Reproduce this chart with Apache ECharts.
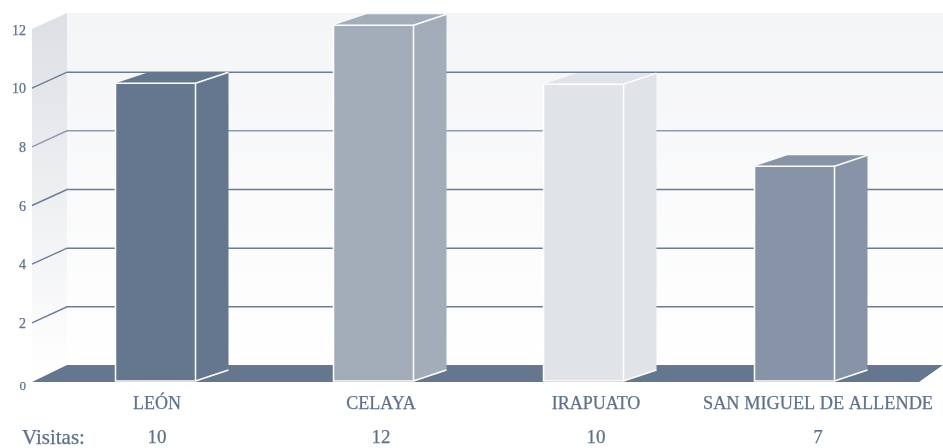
<!DOCTYPE html>
<html><head><meta charset="utf-8">
<style>html,body{margin:0;padding:0;background:#fff}#c{width:943px;height:448px}</style>
<script src="https://cdn.jsdelivr.net/npm/echarts@6/dist/echarts.min.js"></script>
</head><body><div id="c"></div>
<script>
var categories = ['LEÓN', 'CELAYA', 'IRAPUATO', 'SAN MIGUEL DE ALLENDE'];
var visitas = [10, 12, 10, 7];
var barHeights = [10.15, 12.13, 10.12, 7.32];
var yTicks = [12, 0, 2, 4, 6, 8, 10];
var rowTitle = 'Visitas:';
var barColors = ['#65778e', '#a3adb9', '#e0e3e8', '#8794a7'];

var INK = '#5f7189';
var FONT = '"Liberation Serif", serif';
var WALL = {front: 32, back: 67, right: 943, floorRight: 919, dy: 16};
var DEPTH = {dx: 33, dy: 11};
var BAR_W = 80;
var barNudge = [0, 5, 2, 0];
var labelCenters = [157, 381, 596, 818];
var valueCenters = [157, 381, 596, 818];

function poly(points, fill) {
  return {type: 'polygon', shape: {points: points}, style: {fill: fill, lineWidth: 0}};
}
function label(text, x, y, align, size) {
  return {type: 'text', style: {text: text, x: x, y: y, align: align, verticalAlign: 'middle',
    fill: INK, font: size + 'px ' + FONT, stroke: INK, lineWidth: 0.25}};
}

var chart = echarts.init(document.getElementById('c'), null, {renderer: 'canvas'});
chart.setOption({
  animation: false,
  backgroundColor: '#ffffff',
  grid: {left: 32, width: 852, top: 29, height: 352, containLabel: false},
  xAxis: {type: 'category', data: categories, show: false},
  yAxis: {
    type: 'value', min: 0, max: 12, interval: 2,
    axisLine: {show: false}, axisTick: {show: false}, splitLine: {show: false},
    axisLabel: {color: INK, fontFamily: FONT, fontSize: 14, margin: 6, lineHeight: 14,
      textBorderColor: INK, textBorderWidth: 0.25,
      verticalAlign: 'top', padding: [-5, 0, 0, 0],
      formatter: function (v) { return v === 0 ? '{z|0}' : String(v); },
      rich: {z: {fontSize: 13, fontFamily: FONT, color: INK, padding: [7, 0, 0, 0]}}}
  },
  series: [
    { // walls, floor and grid lines
      type: 'custom', coordinateSystem: 'cartesian2d', silent: true, z: 1,
      data: yTicks.map(function (t) { return [0, t]; }),
      renderItem: function (params, api) {
        var t = api.value(1);
        var y = api.coord([0, t])[1];
        var yTop = api.coord([0, 12])[1], yBase = api.coord([0, 0])[1];
        if (t === 12) {
          return {type: 'group', children: [
            poly([[WALL.front, yTop], [WALL.back, yTop - WALL.dy], [WALL.back, yBase - WALL.dy - 6], [WALL.front, yBase - 6]],
              new echarts.graphic.LinearGradient(0, 0, 0, 1, [{offset: 0, color: '#dcdfe4'}, {offset: 1, color: '#ffffff'}])),
            poly([[WALL.back, yTop - WALL.dy], [WALL.right, yTop - WALL.dy], [WALL.right, yBase - WALL.dy], [WALL.back, yBase - WALL.dy]],
              new echarts.graphic.LinearGradient(0, 0, 0, 1, [{offset: 0, color: '#f4f5f7'}, {offset: 1, color: '#ffffff'}]))
          ]};
        }
        if (t === 0) {
          return poly([[WALL.front, y + 1], [WALL.back, y - WALL.dy], [WALL.right, y - WALL.dy], [WALL.floorRight, y + 1]], '#65778e');
        }
        return {type: 'polyline', shape: {points: [[WALL.front, y + 0.5], [WALL.back, y + 0.5 - WALL.dy], [WALL.right, y + 0.5 - WALL.dy]]},
          style: {fill: null, stroke: (t === 8) ? '#8d9ab0' : '#6b7d96', lineWidth: 1.5}};
      },
      encode: {x: 0, y: 1}
    },
    { // bars
      type: 'custom', coordinateSystem: 'cartesian2d', silent: true, z: 3,
      data: barHeights.map(function (v, i) { return [i, v]; }),
      renderItem: function (params, api) {
        var i = api.value(0);
        var c = api.coord([i, api.value(1)]);
        var base = api.coord([i, 0])[1];
        var l = c[0] + barNudge[i] - BAR_W / 2 + 17, r = l + BAR_W, top = c[1];
        var col = barColors[i];
        var dx = DEPTH.dx, dy = DEPTH.dy;
        var s = '#ffffff';
        return {type: 'group', children: [
          poly([[r, top], [r + dx, top - dy], [r + dx, base - dy], [r, base]], col),
          poly([[l, top], [l + dx, top - dy], [r + dx, top - dy], [r, top]], col),
          {type: 'polyline', shape: {points: [[r, top], [r + dx, top - dy]]}, style: {fill: null, stroke: s, lineWidth: 1.5}},
          {type: 'polyline', shape: {points: [[r, base], [r + dx, base - dy]]}, style: {fill: null, stroke: s, lineWidth: 1.5}},
          {type: 'rect', shape: {x: l, y: top, width: BAR_W, height: base - top},
            style: {fill: col, stroke: s, lineWidth: 1.5}}
        ]};
      },
      encode: {x: 0, y: 1}
    },
    { // table under the chart
      type: 'custom', coordinateSystem: 'cartesian2d', silent: true, z: 4,
      data: categories.map(function (n, i) { return [i, 0]; }),
      renderItem: function (params, api) {
        var i = api.value(0);
        var base = api.coord([i, 0])[1];
        var kids = [
          label(categories[i], labelCenters[i], base + 23, 'center', i === 3 ? 18.3 : 18),
          label(String(visitas[i]), valueCenters[i], base + 57, 'center', 19)
        ];
        if (i === 0) {
          kids.push(label(rowTitle, 22, base + 57, 'left', 21));
        }
        return {type: 'group', children: kids};
      },
      encode: {x: 0, y: 1}
    }
  ]
});
</script></body></html>
